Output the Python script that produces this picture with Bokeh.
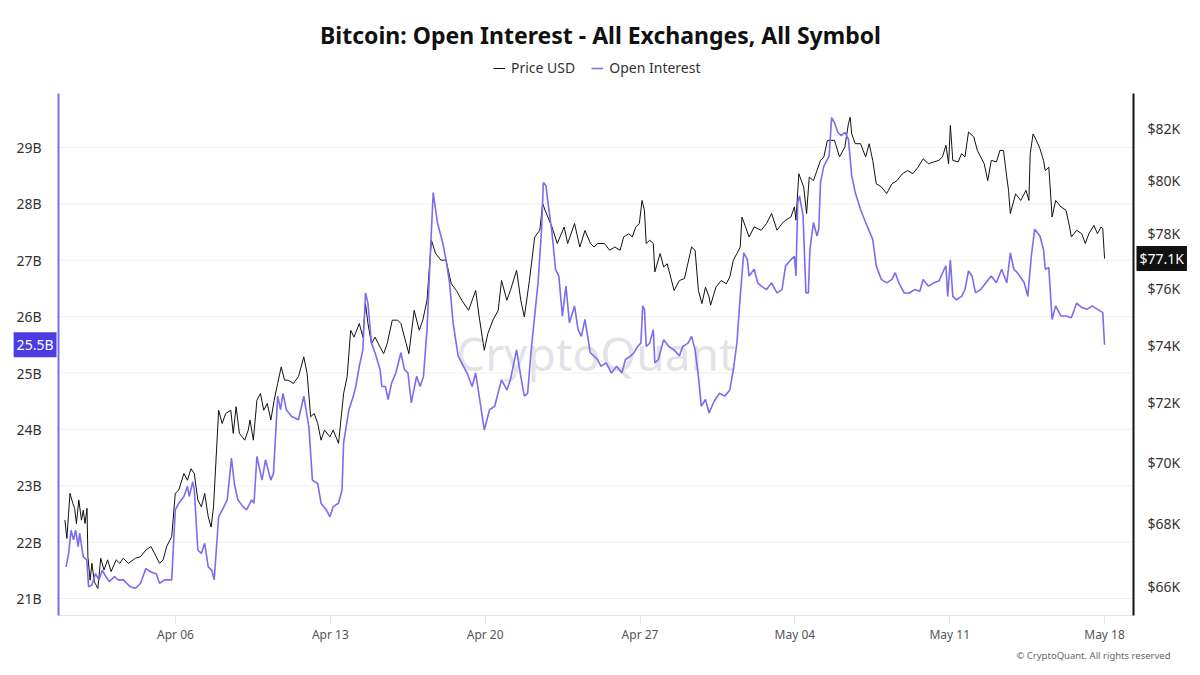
import numpy as np
import pandas as pd
from bokeh.plotting import figure
from bokeh.models import (Range1d, LogAxis, LogScale, FixedTicker, Legend, LegendItem,
                          Label, DatetimeTickFormatter)
from bokeh.embed import file_html
from bokeh.resources import INLINE

START = pd.Timestamp("2026-04-01 00:00")

# Bitcoin price (thousand USD), by day offset from START
price_day = [0.0, 0.09, 0.23, 0.36, 0.44, 0.52, 0.63, 0.75, 0.83, 0.91, 1.0, 1.04, 1.14, 1.22, 1.33,
             1.49, 1.62, 1.77, 1.93, 2.09, 2.32, 2.48, 2.64, 2.87, 3.19, 3.42, 3.66, 3.89, 4.05, 4.28,
             4.44, 4.60, 4.83, 4.99, 5.15, 5.38, 5.54, 5.70, 5.85, 6.01, 6.17, 6.32, 6.48, 6.61, 6.72,
             6.95, 7.11, 7.27, 7.50, 7.61, 7.74, 7.89, 8.13, 8.29, 8.37, 8.52, 8.68, 8.84, 8.99, 9.15,
             9.31, 9.46, 9.62, 9.78, 9.93, 10.09, 10.33, 10.56, 10.80, 10.95, 11.11, 11.27, 11.43,
             11.58, 11.74, 11.98, 12.13, 12.37, 12.60, 12.76, 12.92, 13.07, 13.31, 13.47, 13.59, 13.70,
             13.86, 14.02, 14.25, 14.41, 14.57, 14.80, 15.04, 15.19, 15.43, 15.55, 15.79, 16.02, 16.18,
             16.37, 16.57, 16.76, 17.0, 17.23, 17.47, 17.70, 17.94, 18.25, 18.57, 18.73, 18.96, 19.12,
             19.35, 19.59, 19.74, 19.98, 20.14, 20.42, 20.61, 20.77, 21.0, 21.24, 21.47, 21.60, 21.71,
             22.02, 22.26, 22.57, 22.73, 23.04, 23.28, 23.51, 23.76, 23.92, 24.08, 24.39, 24.63, 24.86,
             25.10, 25.26, 25.49, 25.65, 25.81, 25.97, 26.09, 26.20, 26.28, 26.44, 26.60, 26.67, 26.91,
             27.07, 27.23, 27.54, 27.78, 28.01, 28.33, 28.49, 28.64, 28.80, 28.96, 29.12, 29.19, 29.43,
             29.67, 29.90, 30.06, 30.22, 30.38, 30.53, 30.61, 30.77, 30.93, 31.16, 31.48, 31.72, 31.95,
             32.19, 32.42, 32.58, 32.82, 32.98, 33.05, 33.18, 33.29, 33.40, 33.53, 33.65, 33.84, 34.0,
             34.16, 34.31, 34.47, 34.79, 35.02, 35.26, 35.42, 35.50, 35.57, 35.73, 35.97, 36.20, 36.36,
             36.52, 36.68, 36.91, 37.15, 37.39, 37.62, 37.86, 38.10, 38.33, 38.57, 38.80, 39.04, 39.28,
             39.51, 39.67, 39.83, 39.95, 40.03, 40.14, 40.38, 40.54, 40.69, 40.85, 41.09, 41.25, 41.40,
             41.56, 41.72, 41.88, 42.11, 42.27, 42.43, 42.58, 42.66, 42.74, 42.98, 43.21, 43.45, 43.58,
             43.64, 43.77, 43.92, 44.08, 44.24, 44.32, 44.48, 44.63, 44.79, 45.03, 45.26, 45.42, 45.50,
             45.74, 45.97, 46.13, 46.29, 46.52, 46.68, 46.84, 46.92, 47.0]
price_usd_k = [68.11, 67.52, 68.98, 68.65, 68.49, 68.0, 68.76, 68.11, 68.43, 68.0, 68.49, 66.94, 66.20,
               66.73, 66.15, 65.94, 66.89, 66.52, 66.84, 66.47, 66.84, 66.73, 66.89, 66.73, 66.89, 66.94,
               67.15, 67.26, 67.05, 66.73, 66.84, 67.26, 67.58, 68.98, 69.09, 69.63, 69.41, 69.79, 69.63,
               68.76, 68.54, 68.98, 68.22, 67.89, 68.54, 71.75, 71.30, 71.64, 71.75, 70.97, 71.87, 70.97,
               70.74, 71.08, 71.42, 70.74, 72.09, 72.32, 71.75, 71.98, 71.42, 72.09, 72.67, 73.24, 72.78,
               72.78, 72.67, 72.90, 73.59, 73.01, 71.53, 71.64, 71.30, 70.74, 71.08, 70.85, 71.08, 70.63,
               72.32, 72.90, 74.52, 74.28, 74.76, 74.28, 75.47, 74.76, 74.05, 74.28, 73.93, 73.70, 74.05,
               74.88, 74.88, 74.76, 74.05, 73.70, 75.23, 74.52, 74.88, 75.59, 77.77, 77.28, 77.04, 77.04,
               76.18, 75.94, 75.59, 75.23, 75.94, 74.99, 73.82, 74.40, 74.88, 75.23, 76.30, 75.59, 75.94,
               76.67, 75.59, 74.99, 76.30, 77.89, 78.14, 79.13, 78.88, 78.26, 77.65, 78.26, 77.65, 78.39,
               77.52, 78.13, 77.65, 77.52, 77.65, 77.65, 77.40, 77.52, 77.40, 77.89, 78.01, 77.89, 78.26,
               78.39, 79.25, 78.88, 77.65, 77.77, 77.65, 76.61, 77.28, 76.79, 76.91, 75.94, 76.30, 76.37,
               77.52, 77.40, 75.94, 75.47, 76.06, 75.71, 75.41, 76.06, 76.30, 76.18, 76.43, 77.04, 77.28,
               77.52, 78.63, 78.26, 77.89, 78.26, 78.14, 78.39, 78.76, 78.14, 78.39, 78.51, 78.63, 79.01,
               78.51, 80.26, 80.0, 79.75, 78.76, 80.13, 80.0, 80.38, 80.77, 80.90, 81.54, 81.54, 80.90,
               81.28, 82.18, 82.44, 81.79, 81.41, 81.41, 80.90, 81.41, 80.77, 79.88, 79.76, 79.51, 79.88,
               80.0, 80.26, 80.38, 80.26, 80.51, 80.83, 80.64, 80.71, 80.77, 80.90, 81.35, 80.64, 82.12,
               80.77, 80.71, 81.03, 80.90, 81.86, 81.67, 81.15, 80.90, 80.64, 80.0, 80.77, 80.71, 81.15,
               81.15, 80.13, 79.63, 78.76, 79.50, 79.25, 79.63, 79.25, 81.03, 81.79, 81.54, 81.22, 80.77,
               80.38, 80.51, 78.63, 79.25, 79.01, 78.88, 78.26, 77.89, 78.14, 78.01, 77.65, 78.01, 78.32,
               78.01, 78.26, 78.20, 77.10]

# Open interest (billion USD), by day offset from START
oi_day = [0.05, 0.17, 0.28, 0.39, 0.49, 0.60, 0.67, 0.83, 0.99, 1.07, 1.22, 1.38, 1.54, 1.69, 1.85, 2.01,
          2.24, 2.40, 2.64, 2.95, 3.19, 3.42, 3.66, 3.89, 4.13, 4.28, 4.52, 4.83, 4.99, 5.15, 5.38, 5.54,
          5.62, 5.78, 5.85, 6.01, 6.17, 6.32, 6.48, 6.64, 6.75, 6.95, 7.19, 7.34, 7.53, 7.66, 7.82, 8.05,
          8.21, 8.44, 8.55, 8.68, 8.91, 9.07, 9.31, 9.43, 9.62, 9.75, 9.86, 10.01, 10.25, 10.56, 10.80,
          11.03, 11.19, 11.43, 11.58, 11.82, 11.98, 12.13, 12.37, 12.53, 12.60, 12.84, 13.04, 13.15,
          13.31, 13.47, 13.59, 13.70, 13.86, 14.02, 14.25, 14.33, 14.49, 14.61, 14.77, 14.96, 15.19,
          15.35, 15.51, 15.66, 15.90, 16.06, 16.21, 16.37, 16.53, 16.65, 16.84, 17.08, 17.23, 17.39,
          17.55, 17.78, 18.18, 18.41, 18.57, 18.73, 18.96, 19.20, 19.43, 19.74, 19.98, 20.14, 20.42,
          20.61, 20.77, 20.92, 21.08, 21.39, 21.55, 21.63, 21.75, 21.86, 22.02, 22.18, 22.33, 22.49,
          22.65, 22.81, 23.04, 23.20, 23.35, 23.51, 23.75, 23.92, 24.08, 24.23, 24.47, 24.71, 24.94,
          25.18, 25.34, 25.57, 25.73, 25.89, 26.04, 26.12, 26.20, 26.28, 26.44, 26.60, 26.67, 26.83,
          27.07, 27.30, 27.54, 27.78, 27.93, 28.17, 28.33, 28.49, 28.64, 28.77, 28.96, 29.12, 29.35,
          29.59, 29.83, 30.06, 30.22, 30.38, 30.53, 30.69, 30.85, 30.93, 31.16, 31.32, 31.48, 31.72,
          31.95, 32.19, 32.42, 32.58, 32.82, 32.98, 33.05, 33.13, 33.21, 33.37, 33.50, 33.61, 33.68,
          33.84, 34.0, 34.08, 34.16, 34.31, 34.55, 34.66, 34.79, 34.94, 35.10, 35.26, 35.42, 35.57,
          35.73, 35.97, 36.20, 36.52, 36.68, 36.91, 37.15, 37.39, 37.54, 37.70, 37.94, 38.17, 38.41,
          38.65, 38.80, 39.04, 39.28, 39.51, 39.75, 39.83, 39.91, 40.03, 40.14, 40.30, 40.54, 40.69,
          40.85, 41.01, 41.17, 41.40, 41.64, 41.88, 42.11, 42.35, 42.58, 42.74, 42.90, 43.06, 43.37,
          43.53, 43.69, 43.84, 44.08, 44.24, 44.32, 44.48, 44.63, 44.79, 45.03, 45.26, 45.50, 45.74,
          45.97, 46.21, 46.44, 46.68, 46.92, 47.0]
oi_usd_bn = [21.56, 21.80, 22.21, 22.04, 22.21, 21.92, 22.16, 21.74, 21.68, 21.21, 21.24, 21.44, 21.33,
             21.50, 21.39, 21.30, 21.39, 21.33, 21.33, 21.21, 21.18, 21.27, 21.53, 21.47, 21.44, 21.27,
             21.33, 21.33, 22.57, 22.69, 22.81, 22.99, 22.81, 23.07, 22.93, 21.86, 21.80, 21.98, 21.56,
             21.50, 21.33, 22.45, 22.63, 22.75, 23.49, 23.04, 22.75, 22.63, 22.57, 22.75, 22.69, 23.52,
             23.10, 23.46, 23.10, 23.22, 24.59, 24.35, 24.64, 24.35, 24.23, 24.17, 24.59, 24.05, 23.10,
             23.04, 22.69, 22.57, 22.45, 22.63, 22.69, 22.93, 23.76, 24.35, 24.59, 24.76, 25.12, 25.41,
             26.42, 26.24, 25.53, 25.36, 25.06, 24.76, 24.76, 24.53, 24.82, 25.0, 25.36, 25.06, 25.0,
             24.47, 24.94, 24.76, 24.94, 25.77, 27.19, 28.20, 27.67, 27.31, 27.01, 26.60, 25.89, 25.30,
             25.0, 24.76, 25.0, 24.59, 23.99, 24.35, 24.41, 24.88, 24.70, 24.88, 25.41, 24.94, 24.59,
             24.64, 25.41, 26.60, 27.55, 28.38, 28.32, 27.96, 27.49, 26.84, 26.72, 26.01, 26.54, 25.89,
             26.19, 25.77, 25.65, 25.95, 25.36, 25.30, 25.24, 25.12, 25.18, 25.0, 25.12, 25.0, 25.24,
             25.30, 25.36, 25.47, 25.53, 26.19, 26.13, 25.47, 25.53, 25.77, 25.18, 25.24, 25.59, 25.47,
             25.41, 25.30, 25.47, 25.53, 25.65, 25.41, 24.94, 24.41, 24.53, 24.29, 24.50, 24.64, 24.59,
             24.70, 25.06, 25.53, 26.36, 27.13, 27.01, 26.72, 26.84, 26.60, 26.54, 26.48, 26.60, 26.42,
             26.48, 26.90, 27.01, 27.07, 26.72, 28.02, 28.14, 27.79, 26.42, 26.42, 27.19, 27.67, 27.43,
             27.55, 28.38, 28.67, 28.85, 29.53, 29.44, 29.27, 29.21, 29.27, 29.15, 28.50, 28.20, 27.90,
             27.67, 27.37, 26.90, 26.66, 26.60, 26.66, 26.78, 26.60, 26.42, 26.42, 26.48, 26.45, 26.66,
             26.54, 26.60, 26.63, 26.84, 26.90, 26.36, 27.01, 26.36, 26.30, 26.36, 26.48, 26.81, 26.72,
             26.42, 26.48, 26.60, 26.72, 26.60, 26.84, 26.60, 27.13, 26.84, 26.78, 26.60, 26.36, 27.07,
             27.55, 27.43, 27.19, 26.84, 26.87, 25.95, 26.19, 26.01, 26.01, 25.98, 26.24, 26.16, 26.13,
             26.19, 26.13, 26.07, 25.50]

tick_dates = ["2026-04-06", "2026-04-13", "2026-04-20", "2026-04-27",
              "2026-05-04", "2026-05-11", "2026-05-18"]
oi_ticks = [21, 22, 23, 24, 25, 26, 27, 28, 29]
price_ticks = [66, 68, 70, 72, 74, 76, 78, 80, 82]

TITLE = "Bitcoin: Open Interest - All Exchanges, All Symbol"
FOOTER = "© CryptoQuant. All rights reserved"
WATERMARK = "CryptoQuant"

# ---- layout -------------------------------------------------------------
W, H = 1200, 675
PLOT_L, PLOT_R, PLOT_T, PLOT_B = 58, 1133, 93, 615      # plot box in canvas pixels
DAY_LO, DAY_HI = -0.289, 48.309                          # x span of the plot box (days)
OI_LO, OI_HI = 20.6985, 29.958                           # left-axis span (billions)
PX_LO, PX_HI = 65.10, 83.37                              # right-axis span (thousand USD, log)

PURPLE = "#7b6cf0"
FONT = "Noto Sans"


def to_ms(ts):
    return ts.value / 1e6


def day_ms(d):
    return to_ms(START + pd.Timedelta(days=d))


# The frame fills the whole canvas; ranges are stretched so the plot box sits where wanted.
d_per_px = (DAY_HI - DAY_LO) / (PLOT_R - PLOT_L)
x_lo_day = DAY_LO - PLOT_L * d_per_px
x_hi_day = DAY_HI + (W - PLOT_R) * d_per_px

oi_per_px = (OI_HI - OI_LO) / (PLOT_B - PLOT_T)
oi_bottom = OI_LO - (H - PLOT_B) * oi_per_px
oi_top = OI_HI + PLOT_T * oi_per_px

lp_per_px = (np.log(PX_HI) - np.log(PX_LO)) / (PLOT_B - PLOT_T)
price_bottom = float(np.exp(np.log(PX_LO) - (H - PLOT_B) * lp_per_px))
price_top = float(np.exp(np.log(PX_HI) + PLOT_T * lp_per_px))

price_x = START + pd.to_timedelta(np.array(price_day), unit="D")
oi_x = START + pd.to_timedelta(np.array(oi_day), unit="D")

p = figure(width=W, height=H, x_axis_type="datetime",
           x_range=Range1d(day_ms(x_lo_day), day_ms(x_hi_day)),
           y_range=Range1d(oi_bottom, oi_top),
           output_backend="svg", toolbar_location=None, title_location=None,
           min_border=0, min_border_left=0, min_border_right=0, min_border_top=0,
           min_border_bottom=0, background_fill_color="white", border_fill_color="white",
           outline_line_color=None)

p.extra_y_ranges = {"price": Range1d(price_bottom, price_top), "px": Range1d(H, 0)}
p.extra_y_scales = {"price": LogScale()}
p.extra_x_ranges = {"px": Range1d(0, W)}

p.xgrid.visible = False
p.ygrid.visible = False

# horizontal grid lines between the two value axes
p.segment(x0=[day_ms(DAY_LO)] * len(oi_ticks), x1=[day_ms(DAY_HI)] * len(oi_ticks),
          y0=oi_ticks, y1=oi_ticks, line_color="#efeff2", line_width=1)

# bottom axis
xa = p.xaxis[0]
xa.fixed_location = OI_LO
xa.bounds = (day_ms(DAY_LO), day_ms(DAY_HI))
xa.ticker = FixedTicker(ticks=[to_ms(pd.Timestamp(d)) for d in tick_dates])
xa.formatter = DatetimeTickFormatter(days="%b %d", months="%b %d", hours="%b %d",
                                     hourmin="%b %d", minutes="%b %d")
xa.axis_line_color = "#e4e4e8"
xa.major_tick_line_color = "#e4e4e8"
xa.major_tick_in = 0
xa.major_tick_out = 8
xa.minor_tick_line_color = None
xa.major_label_text_font = FONT
xa.major_label_text_font_size = "12px"
xa.major_label_text_color = "#555555"
xa.major_label_standoff = 2

# left axis: open interest
ya = p.yaxis[0]
ya.fixed_location = day_ms(DAY_LO)
ya.bounds = (OI_LO, OI_HI)
ya.ticker = FixedTicker(ticks=oi_ticks)
ya.major_label_overrides = {t: f"{t}B" for t in oi_ticks}
ya.axis_line_color = PURPLE
ya.axis_line_width = 2
ya.major_tick_line_color = None
ya.minor_tick_line_color = None
ya.major_label_text_font = FONT
ya.major_label_text_font_size = "14px"
ya.major_label_text_color = "#333333"
ya.major_label_standoff = 11

# right axis: price (log)
ra = LogAxis(y_range_name="price")
ra.fixed_location = day_ms(DAY_HI)
ra.bounds = (PX_LO, PX_HI)
ra.ticker = FixedTicker(ticks=price_ticks)
ra.major_label_overrides = {t: f"${t}K" for t in price_ticks}
ra.axis_line_color = "#111111"
ra.axis_line_width = 2
ra.major_tick_line_color = None
ra.minor_tick_line_color = None
ra.major_label_text_font = FONT
ra.major_label_text_font_size = "14px"
ra.major_label_text_color = "#333333"
ra.major_label_standoff = 8
p.add_layout(ra, "right")

# watermark
p.add_layout(Label(x=day_ms(24.0), y=25.36, text=WATERMARK, text_font=FONT,
                   text_font_size="46px", text_color="#d6d6de", text_alpha=0.7,
                   text_align="center", text_baseline="middle", level="underlay"))

r_price = p.line(price_x, price_usd_k, y_range_name="price", line_color="#111111", line_width=1.0)
r_oi = p.line(oi_x, oi_usd_bn, line_color=PURPLE, line_width=1.6)

# latest-value badges on the two axes
p.add_layout(Label(x=PLOT_L - 2, x_range_name="px", y=oi_usd_bn[-1], text=f"{oi_usd_bn[-1]}B",
                   text_font=FONT, text_font_size="14px", text_color="white", text_align="right",
                   text_baseline="middle", background_fill_color="#4b3ce4", padding=3))
p.add_layout(Label(x=PLOT_R + 3, x_range_name="px", y=price_usd_k[-1], y_range_name="price",
                   text=f"${price_usd_k[-1]}K", text_font=FONT, text_font_size="14px",
                   text_color="white", text_align="left", text_baseline="middle",
                   background_fill_color="#111111", padding=3))

# title, legend and footer
p.add_layout(Label(x=W / 2, y=34, x_range_name="px", y_range_name="px", text=TITLE,
                   text_font=FONT, text_font_size="23px", text_font_style="bold",
                   text_color="#111111", text_align="center", text_baseline="middle"))

legend = Legend(items=[LegendItem(label="Price USD", renderers=[r_price]),
                       LegendItem(label="Open Interest", renderers=[r_oi])],
                orientation="horizontal", location=(489, H - 81),
                label_text_font=FONT, label_text_font_size="14px", label_text_color="#333333",
                glyph_width=12, glyph_height=14, spacing=16, label_standoff=6,
                border_line_alpha=0, background_fill_alpha=0, margin=0, padding=4)
p.add_layout(legend)

p.add_layout(Label(x=1170, y=655, x_range_name="px", y_range_name="px", text=FOOTER,
                   text_font=FONT, text_font_size="9.5px", text_color="#666666",
                   text_align="right", text_baseline="middle"))

open("out.html", "w").write(file_html(p, INLINE))
